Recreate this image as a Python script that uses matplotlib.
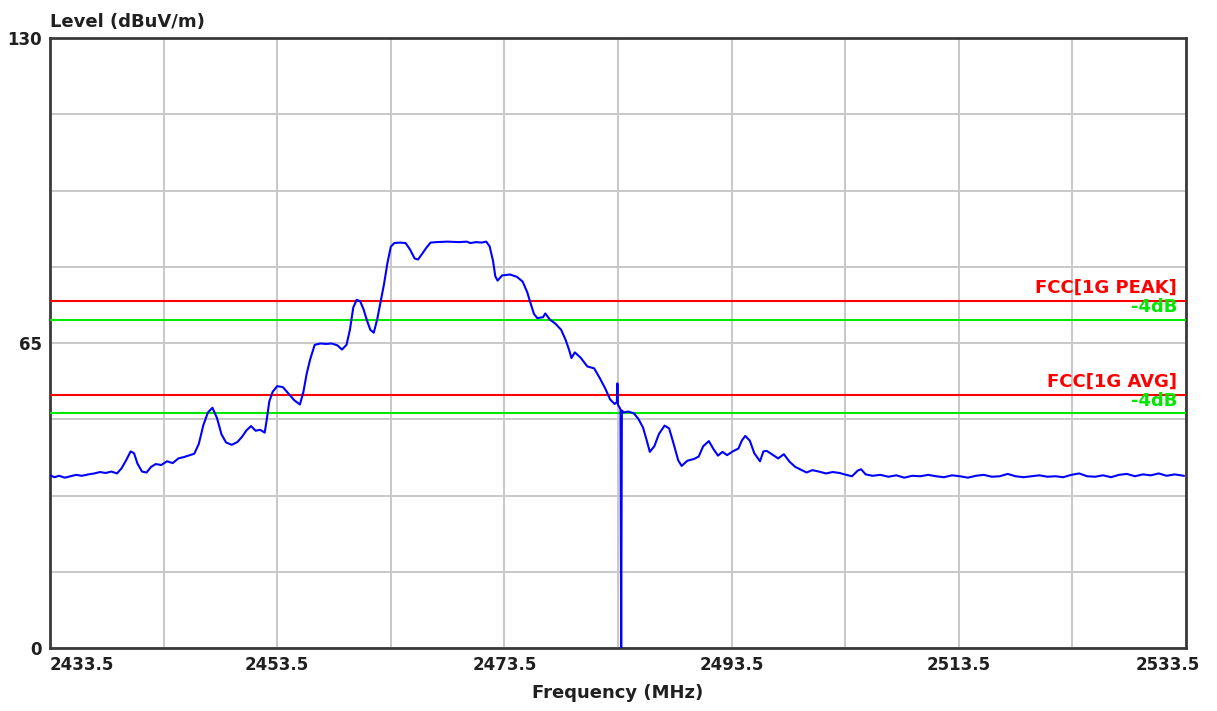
import matplotlib
matplotlib.use('Agg')
from matplotlib import pyplot as plt
from matplotlib.transforms import ScaledTranslation
import numpy as np

freq_mhz = [
    2433.5, 2433.9, 2434.3, 2434.8, 2435.3, 2435.8, 2436.3, 2436.9, 2437.4, 2437.9,
    2438.4, 2438.9, 2439.4, 2439.8, 2440.2, 2440.6, 2440.9, 2441.2, 2441.6, 2442.0,
    2442.4, 2442.8, 2443.3, 2443.8, 2444.3, 2444.8, 2445.3, 2445.8, 2446.2, 2446.6,
    2447.0, 2447.4, 2447.8, 2448.2, 2448.6, 2449.0, 2449.5, 2450.0, 2450.4, 2450.8,
    2451.2, 2451.6, 2452.0, 2452.4, 2452.6, 2452.8, 2453.1, 2453.5, 2454.0, 2454.5,
    2455.0, 2455.5, 2455.8, 2456.1, 2456.4, 2456.8, 2457.3, 2457.8, 2458.3, 2458.8,
    2459.2, 2459.6, 2459.9, 2460.2, 2460.5, 2460.8, 2461.1, 2461.4, 2461.7, 2462.0,
    2462.3, 2462.6, 2462.9, 2463.2, 2463.5, 2463.8, 2464.3, 2464.8, 2465.2, 2465.6,
    2465.9, 2466.2, 2466.6, 2467.0, 2467.5, 2468.5, 2469.5, 2470.2, 2470.5, 2471.0,
    2471.5, 2471.9, 2472.2, 2472.5, 2472.7, 2472.9, 2473.3, 2474.0, 2474.6, 2475.1,
    2475.5, 2475.8, 2476.1, 2476.4, 2476.9, 2477.1, 2477.5, 2478.0, 2478.5, 2478.9,
    2479.2, 2479.4, 2479.7, 2480.2, 2480.8, 2481.4, 2481.9, 2482.4, 2482.8, 2483.2,
    2483.40, 2483.45, 2483.5, 2483.65, 2483.72, 2483.78, 2483.84, 2484.0, 2484.4, 2484.9,
    2485.3, 2485.7, 2486.0, 2486.3, 2486.7, 2487.1, 2487.6, 2488.0, 2488.4, 2488.8,
    2489.1, 2489.6, 2490.2, 2490.6, 2491.0, 2491.5, 2491.9, 2492.3, 2492.7, 2493.1,
    2493.6, 2494.1, 2494.4, 2494.7, 2495.1, 2495.5, 2496.0, 2496.3, 2496.6, 2497.1,
    2497.6, 2498.1, 2498.6, 2499.1, 2499.6, 2500.1, 2500.6, 2501.2, 2501.8, 2502.4,
    2503.0, 2503.6, 2504.1, 2504.6, 2504.9, 2505.3, 2505.9, 2506.6, 2507.3, 2508.0,
    2508.7, 2509.4, 2510.1, 2510.8, 2511.5, 2512.2, 2512.9, 2513.6, 2514.3, 2515.0,
    2515.7, 2516.4, 2517.1, 2517.8, 2518.5, 2519.2, 2519.9, 2520.6, 2521.3, 2522.0,
    2522.7, 2523.4, 2524.1, 2524.8, 2525.5, 2526.2, 2526.9, 2527.6, 2528.3, 2529.0,
    2529.7, 2530.4, 2531.1, 2531.8, 2532.5, 2533.3,
]
level_dbuv = [
    36.8, 36.4, 36.7, 36.3, 36.6, 36.9, 36.7, 37.0, 37.2, 37.5,
    37.3, 37.6, 37.2, 38.3, 40.0, 41.9, 41.5, 39.3, 37.6, 37.4,
    38.6, 39.2, 39.0, 39.8, 39.4, 40.4, 40.7, 41.1, 41.4, 43.5,
    47.5, 50.2, 51.2, 49.0, 45.5, 43.8, 43.3, 43.9, 45.0, 46.4,
    47.3, 46.3, 46.5, 45.9, 49.0, 52.5, 54.6, 55.8, 55.6, 54.2,
    52.8, 51.9, 54.5, 58.5, 61.5, 64.6, 64.9, 64.8, 64.9, 64.5,
    63.6, 64.6, 67.8, 72.6, 74.2, 73.9, 72.2, 69.8, 67.8, 67.2,
    70.0, 73.8, 77.5, 82.0, 85.5, 86.3, 86.4, 86.3, 84.9, 83.0,
    82.8, 83.8, 85.2, 86.4, 86.5, 86.6, 86.5, 86.6, 86.3, 86.5,
    86.4, 86.6, 85.6, 82.5, 79.2, 78.3, 79.4, 79.6, 79.1, 78.1,
    75.9, 73.5, 71.2, 70.3, 70.5, 71.3, 70.0, 69.1, 67.8, 65.6,
    63.5, 61.8, 63.0, 61.9, 60.0, 59.6, 57.5, 55.2, 53.0, 52.0,
    52.4, 56.4, 51.8, 51.2, 50.8, 0.0, 50.6, 50.2, 50.4, 50.0,
    48.8, 47.0, 44.5, 41.8, 43.0, 45.6, 47.4, 46.8, 43.5, 40.0,
    38.8, 39.9, 40.3, 40.8, 43.0, 44.1, 42.4, 41.0, 41.8, 41.1,
    41.9, 42.5, 44.2, 45.2, 44.2, 41.5, 39.8, 41.9, 42.0, 41.2,
    40.4, 41.3, 39.7, 38.6, 38.0, 37.4, 37.9, 37.6, 37.2, 37.5,
    37.3, 36.9, 36.6, 37.8, 38.1, 37.0, 36.7, 36.9, 36.5, 36.8,
    36.3, 36.7, 36.6, 36.9, 36.6, 36.4, 36.8, 36.6, 36.3, 36.7,
    36.9, 36.5, 36.6, 37.1, 36.6, 36.4, 36.6, 36.8, 36.5, 36.6,
    36.4, 36.9, 37.2, 36.6, 36.5, 36.8, 36.4, 36.9, 37.1, 36.6,
    37.0, 36.8, 37.2, 36.7, 37.0, 36.7,
]

# limit lines
limit_names = ['FCC[1G PEAK]', 'FCC[1G AVG]']
limit_levels = [74, 54]
margin_db = 4

x_ticks = np.arange(2433.5, 2533.6, 10)
y_ticks = np.linspace(0, 130, 9)

fig = plt.figure(figsize=(12.17, 7.11), dpi=100)
ax = fig.add_axes([50 / 1217, 1 - 648 / 711, 1136 / 1217, 610 / 711])

ax.plot(freq_mhz, level_dbuv, color='#0000FF', lw=1.5, zorder=4)

for name, lvl in zip(limit_names, limit_levels):
    ax.axhline(lvl, color='#FF0000', lw=1.5, zorder=3)
    ax.axhline(lvl - margin_db, color='#00E800', lw=1.5, zorder=3)
    ax.text(2532.7, lvl + 1.6, name, color='#FF0000', fontsize=13,
            fontweight='bold', ha='right', va='baseline', zorder=5)
    ax.text(2532.7, lvl - 2.4, '-4dB', color='#00E800', fontsize=13,
            fontweight='bold', ha='right', va='baseline', zorder=5)

ax.set_xlim(2433.5, 2533.5)
ax.set_ylim(0, 130)
ax.set_xticks(x_ticks)
ax.set_xticklabels([f'{v:.1f}' if i % 2 == 0 else '' for i, v in enumerate(x_ticks)])
ax.set_yticks(y_ticks)
ax.set_yticklabels(['0', '', '', '', '65', '', '', '', '130'])
ax.tick_params(length=0, labelsize=12, labelcolor='#202020', pad=6)
for lab in ax.get_xticklabels() + ax.get_yticklabels():
    lab.set_fontweight('bold')

xlabs = ax.get_xticklabels()
xlabs[0].set_ha('left')
xlabs[-1].set_transform(xlabs[-1].get_transform() +
                        ScaledTranslation(-0.18, 0, fig.dpi_scale_trans))

ax.grid(True, color='#C8C8C8', lw=1.4)
ax.set_axisbelow(True)
for sp in ax.spines.values():
    sp.set_color('#3A3A3A')
    sp.set_linewidth(2.0)

fig.text(50 / 1217, 1 - 27 / 711, 'Level (dBuV/m)', fontsize=13,
         fontweight='bold', color='#202020', ha='left', va='baseline')
fig.text(618 / 1217, 1 - 698 / 711, 'Frequency (MHz)', fontsize=13,
         fontweight='bold', color='#202020', ha='center', va='baseline')

fig.savefig('out.png', dpi=100, facecolor='white')
